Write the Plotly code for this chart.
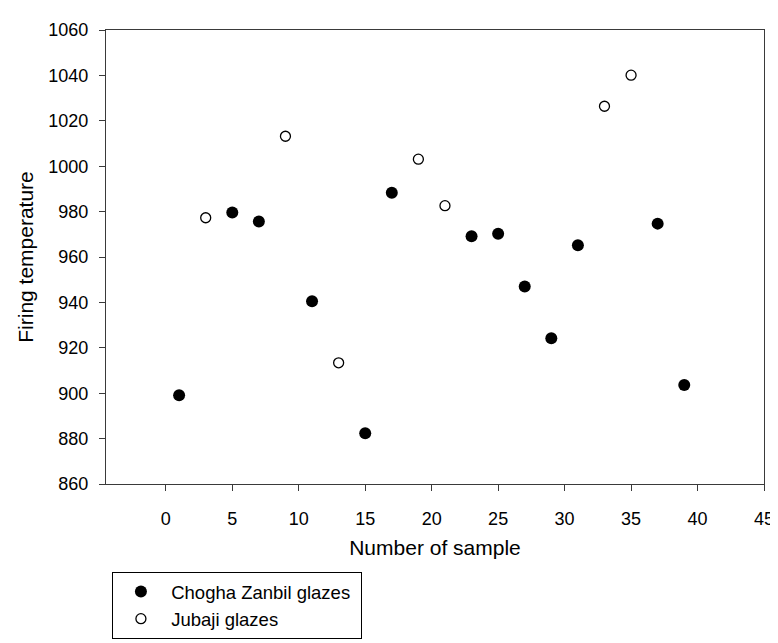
import plotly.graph_objects as go

# Data
cz_x = [1, 5, 7, 11, 15, 17, 23, 25, 27, 29, 31, 37, 39]
cz_y = [899.1, 979.6, 975.6, 940.5, 882.4, 988.3, 969.1, 970.2, 947.0, 924.2, 965.2, 974.7, 903.6]
jb_x = [3, 9, 13, 19, 21, 33, 35]
jb_y = [977.3, 1013.2, 913.4, 1003.1, 982.6, 1026.4, 1040.1]
x_ticks = [0, 5, 10, 15, 20, 25, 30, 35, 40, 45]
y_ticks = [860, 880, 900, 920, 940, 960, 980, 1000, 1020, 1040, 1060]

fig = go.Figure()
fig.add_trace(go.Scatter(
    x=cz_x, y=cz_y, mode="markers", name="\u00a0\u00a0Chogha Zanbil glazes\u00a0",
    marker=dict(symbol="circle", size=12, color="black", line=dict(color="black", width=0)),
))
fig.add_trace(go.Scatter(
    x=jb_x, y=jb_y, mode="markers", name="\u00a0\u00a0Jubaji glazes",
    marker=dict(symbol="circle", size=10, color="white", line=dict(color="black", width=1.3)),
))

font_family = "Liberation Sans, Arial, sans-serif"
axis_common = dict(
    showline=True, linecolor="#3a3a3a", linewidth=1.3, mirror=True,
    ticks="outside", ticklen=6, tickwidth=1.3, tickcolor="#3a3a3a",
    showgrid=False, zeroline=False,
    tickfont=dict(family=font_family, size=18, color="black"),
)

fig.update_layout(
    width=778, height=643,
    margin=dict(l=98, r=14, t=17, b=152),
    paper_bgcolor="white", plot_bgcolor="white",
    font=dict(family=font_family, color="black"),
    xaxis=dict(range=[-4.5, 45], tickvals=x_ticks, ticklabelstandoff=12, **axis_common,
               title=dict(text="Number of sample", font=dict(size=21), standoff=12)),
    yaxis=dict(range=[860, 1060], tickvals=y_ticks, ticklabelstandoff=7, **axis_common,
               title=dict(text="Firing temperature", font=dict(size=21), standoff=8)),
    legend=dict(
        x=0.009, y=-0.194, xanchor="left", yanchor="top",
        bordercolor="black", borderwidth=1, bgcolor="white",
        font=dict(family=font_family, size=18.5, color="black"),
        tracegroupgap=0, itemsizing="trace", indentation=8,
    ),
    showlegend=True,
)

fig.write_html("out.html")
